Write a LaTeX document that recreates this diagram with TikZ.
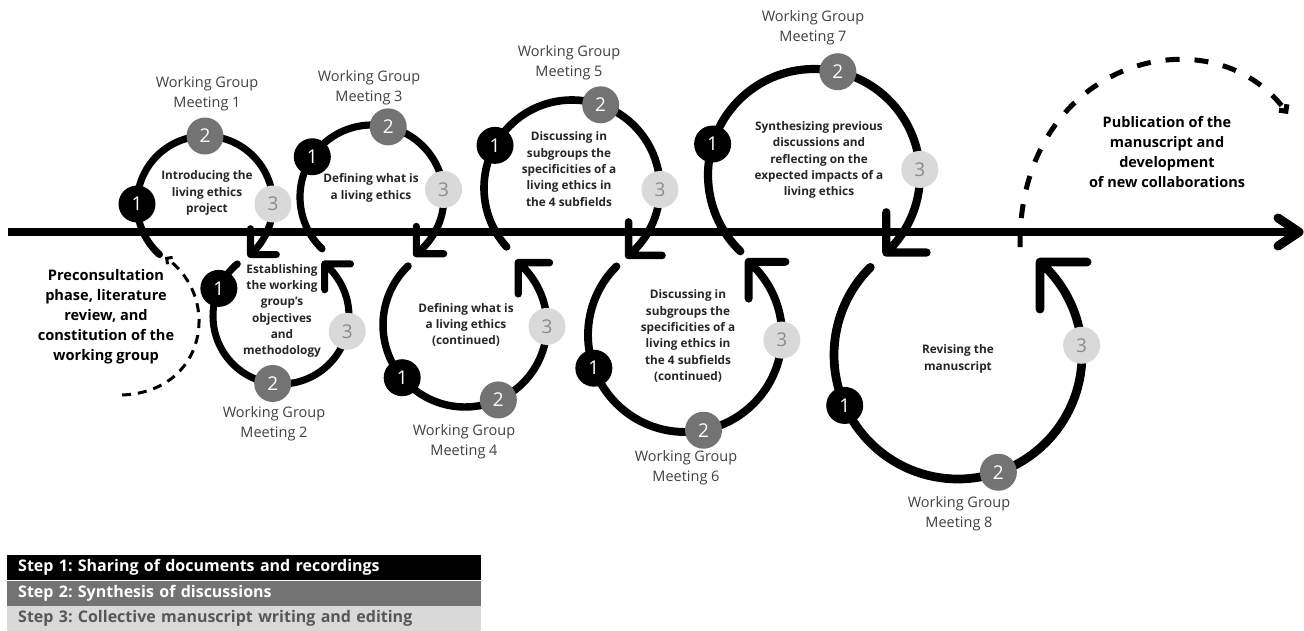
\documentclass[tikz,border=0pt]{standalone}
\usepackage{fontspec}
\setmainfont{Open Sans}
\usetikzlibrary{arrows.meta}
\frenchspacing

\definecolor{twogray}{HTML}{737373}
\definecolor{threegray}{HTML}{D9D9D9}
\definecolor{threetext}{HTML}{8C8C8C}
\definecolor{legendtext}{HTML}{575757}
\definecolor{labelgray}{HTML}{404040}
\definecolor{topictext}{HTML}{262626}

\tikzset{
  loopline/.style={line width=7pt, line cap=round, line join=round},
  axisline/.style={line width=8pt},
  badge/.style={circle, minimum size=37pt, inner sep=0pt, font=\fontsize{19}{19}\selectfont},
  stepone/.style={badge, fill=black, text=white},
  steptwo/.style={badge, fill=twogray, text=white},
  stepthree/.style={badge, fill=threegray, text=threetext},
  meeting/.style={align=center, text=labelgray, font=\fontsize{14.5}{20}\selectfont},
  topic/.style={align=center, text=topictext, font=\bfseries\fontsize{11.8}{16.3}\selectfont},
  phase/.style={align=center, text=black, font=\bfseries\fontsize{14.6}{20}\selectfont},
  legendbar/.style={anchor=north west, minimum height=25pt, text width=452pt, inner xsep=11pt,
    inner ysep=0pt, font=\bfseries\fontsize{16}{18}\selectfont},
}

\begin{document}
\begin{tikzpicture}[x=1pt,y=1pt]
  \useasboundingbox (0,0) rectangle (1304,-630);

  % clockwise loop above the axis, arrow pointing down-left
  \def\toploop(#1)#2#3#4#5#6#7#8{%
    \begin{scope}[shift={(#1)}]
      \pgfmathsetmacro\arm{0.38*#2}
      \pgfmathsetmacro\lw{5+0.03*#2}
      \draw[loopline, line width=\lw pt] (#3:#2) arc[start angle=#3, end angle=#4, radius=#2]
        coordinate (#8-end) ++(0,\arm) -- (#8-end) -- ++(\arm,0);
      \node[stepone] (#8-1) at (#5:#2) {1};
      \node[steptwo] (#8-2) at (#6:#2) {2};
      \node[stepthree] (#8-3) at (#7:#2) {3};
    \end{scope}
  }
  % counter-clockwise loop below the axis, arrow pointing up-left
  \def\bottomloop(#1)#2#3#4#5#6#7#8{%
    \begin{scope}[shift={(#1)}]
      \pgfmathsetmacro\arm{0.38*#2}
      \pgfmathsetmacro\lw{5+0.03*#2}
      \draw[loopline, line width=\lw pt] (#3:#2) arc[start angle=#3, end angle=#4, radius=#2]
        coordinate (#8-end) ++(\arm,0) -- (#8-end) -- ++(0,-\arm);
      \node[stepone] (#8-1) at (#5:#2) {1};
      \node[steptwo] (#8-2) at (#6:#2) {2};
      \node[stepthree] (#8-3) at (#7:#2) {3};
    \end{scope}
  }

  % timeline
  \coordinate (axis-start) at (8,-232);
  \coordinate (axis-end) at (1299,-232);
  \draw[axisline] (axis-start) -- ([xshift=-4pt]axis-end);
  \draw[line width=9pt, line cap=round, line join=round]
    ([xshift=-21pt, yshift=14pt]axis-end) -- (axis-end) -- ([xshift=-21pt, yshift=-14pt]axis-end);

  \toploop(205,-204){68}{228}{-48}{180}{90}{0}{wg1}
  \bottomloop(281,-316){68}{130}{410}{156}{263}{347}{wg2}
  \toploop(372,-197){72}{226}{-52}{146}{77}{6}{wg3}
  \bottomloop(465,-325){82}{134}{409.5}{220}{294}{359}{wg4}
  \toploop(572,-188){88}{222}{-50}{151}{71}{-1}{wg5}
  \bottomloop(685,-335){97}{135}{409}{200}{281}{357}{wg6}
  \toploop(814,-175){106}{226}{-47}{163}{77}{3}{wg7}
  \bottomloop(958,-355){124}{135}{408.6}{204}{289}{4.5}{wg8}

  % meeting labels
  \node[meeting] (m1) at (207,-94) {Working Group\\Meeting 1};
  \node[meeting] (m2) at (274,-424) {Working Group\\Meeting 2};
  \node[meeting] (m3) at (369,-88) {Working Group\\Meeting 3};
  \node[meeting] (m4) at (464,-442) {Working Group\\Meeting 4};
  \node[meeting] (m5) at (569,-63) {Working Group\\Meeting 5};
  \node[meeting] (m6) at (686,-468) {Working Group\\Meeting 6};
  \node[meeting] (m7) at (813,-28) {Working Group\\Meeting 7};
  \node[meeting] (m8) at (959,-514) {Working Group\\Meeting 8};

  % topics
  \node[topic] (t1) at (207,-193) {Introducing the\\living ethics\\project};
  \node[topic] (t2) at (282,-311) {Establishing\\the working\\group's\\objectives\\and\\methodology};
  \node[topic] (t3) at (371,-188) {Defining what is\\a living ethics};
  \node[topic] (t4) at (466,-325) {Defining what is\\a living ethics\\(continued)};
  \node[topic] (t5) at (569,-169) {Discussing in\\subgroups the\\specificities of a\\living ethics in\\the 4 subfields};
  \node[topic] (t6) at (688,-336) {Discussing in\\subgroups the\\specificities of a\\living ethics in\\the 4 subfields\\(continued)};
  \node[topic] (t7) at (819,-160) {Synthesizing previous\\discussions and\\reflecting on the\\expected impacts of a\\living ethics};
  \node[topic] (t8) at (958,-359) {Revising the\\manuscript};

  % before and after
  \node[phase] (pre) at (106,-317) {Preconsultation\\phase, literature\\review, and\\constitution of the\\working group};
  \coordinate (pre-start) at (122,-395);
  \coordinate (pre-end) at (165,-257);
  \draw[line width=3pt, dash pattern=on 9pt off 7pt, -{Straight Barb[angle=90:6pt]}]
    (pre-start) .. controls (205,-392) and (222,-300) .. (pre-end);

  \node[phase, font=\bfseries\fontsize{14.5}{20}\selectfont] (pub) at (1167,-152)
    {Publication of the\\manuscript and\\development\\of new collaborations};
  \coordinate (pub-start) at (1020,-247);
  \coordinate (pub-end) at (1288,-114);
  \draw[line width=5pt, dash pattern=on 14pt off 15pt, -{Straight Barb[angle=90:7pt]}]
    (pub-start) .. controls (1018,-60) and (1210,-10) .. (pub-end);

  % legend
  \node[legendbar, fill=black, text=white] (step1) at (7,-555)
    {Step 1: Sharing of documents and recordings};
  \node[legendbar, fill=twogray, text=white] (step2) at (step1.south west)
    {Step 2: Synthesis of discussions};
  \node[legendbar, fill=threegray, text=legendtext] (step3) at (step2.south west)
    {Step 3: Collective manuscript writing and editing};
\end{tikzpicture}
\end{document}
